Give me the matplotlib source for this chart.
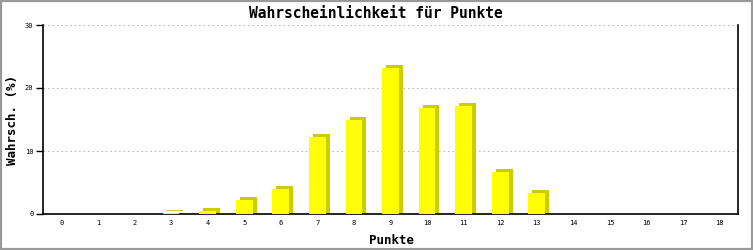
import numpy as np
import matplotlib.pyplot as plt
import matplotlib.transforms as mtransforms

# Punkte (0..18) und Wahrscheinlichkeit in %
punkte = list(range(19))
wahrsch = [0, 0, 0, 0.1, 0.4, 2.3, 3.9, 12.2, 15.0, 23.1, 16.8, 17.1, 6.7, 3.4, 0, 0, 0, 0, 0]
y_ticks = [0, 10, 20, 30]

front_col = '#ffff00'
side_col = '#cccc00'

fig = plt.figure(figsize=(7.53, 2.5), dpi=100)
ax = fig.add_axes([43 / 753, 1 - 214 / 250, 695 / 753, 189 / 250])

x = np.array(punkte)
vals = np.array(wahrsch)
w = 0.46

# 3D look: dark extruded part shifted right/up, then the bright front
shift = mtransforms.offset_copy(ax.transData, fig=fig, x=4, y=3, units='dots')
shift_x = mtransforms.offset_copy(ax.transData, fig=fig, x=4, y=0, units='dots')
nz = vals > 0
ax.bar(x[nz], vals[nz], width=w, color=side_col, transform=shift, zorder=2, linewidth=0)
ax.bar(x[nz], vals[nz], width=w, color=side_col, transform=shift_x, zorder=2, linewidth=0)
ax.bar(x[nz], vals[nz], width=w, color=front_col, zorder=3, linewidth=0)

ax.set_xlim(-0.5, 18.5)
ax.set_ylim(0, 30)
ax.set_yticks(y_ticks)
ax.set_xticks(punkte)
ax.set_xticklabels([str(p) for p in punkte], family='DejaVu Sans Mono', fontsize=5)
ax.set_yticklabels([str(t) for t in y_ticks], family='DejaVu Sans Mono', fontsize=5)
ax.tick_params(axis='x', length=0, pad=4)
ax.tick_params(axis='y', length=5, width=1, pad=2, direction='out')

ax.grid(axis='y', color='#bbbbbb', linestyle=(0, (1.5, 2.5)), linewidth=0.8, zorder=0)
ax.set_axisbelow(True)
ax.spines['top'].set_visible(False)
for s in ['left', 'bottom', 'right']:
    ax.spines[s].set_linewidth(1.2)
    ax.spines[s].set_color('black')

fig.text(376 / 753, 1 - 13 / 250, 'Wahrscheinlichkeit für Punkte', ha='center', va='center',
         family='DejaVu Sans Mono', fontweight='bold', fontsize=10.5)
fig.text(391 / 753, 1 - 240 / 250, 'Punkte', ha='center', va='center',
         family='DejaVu Sans Mono', fontweight='bold', fontsize=9)
fig.text(13 / 753, 1 - 120 / 250, 'Wahrsch. (%)', ha='center', va='center', rotation=90,
         family='DejaVu Sans Mono', fontweight='bold', fontsize=9)

# grey frame around the whole picture
fig.patches.append(plt.Rectangle((0, 0), 1, 1, transform=fig.transFigure, fill=False,
                                 edgecolor='#999999', linewidth=3))

fig.savefig('out.png', dpi=100)
